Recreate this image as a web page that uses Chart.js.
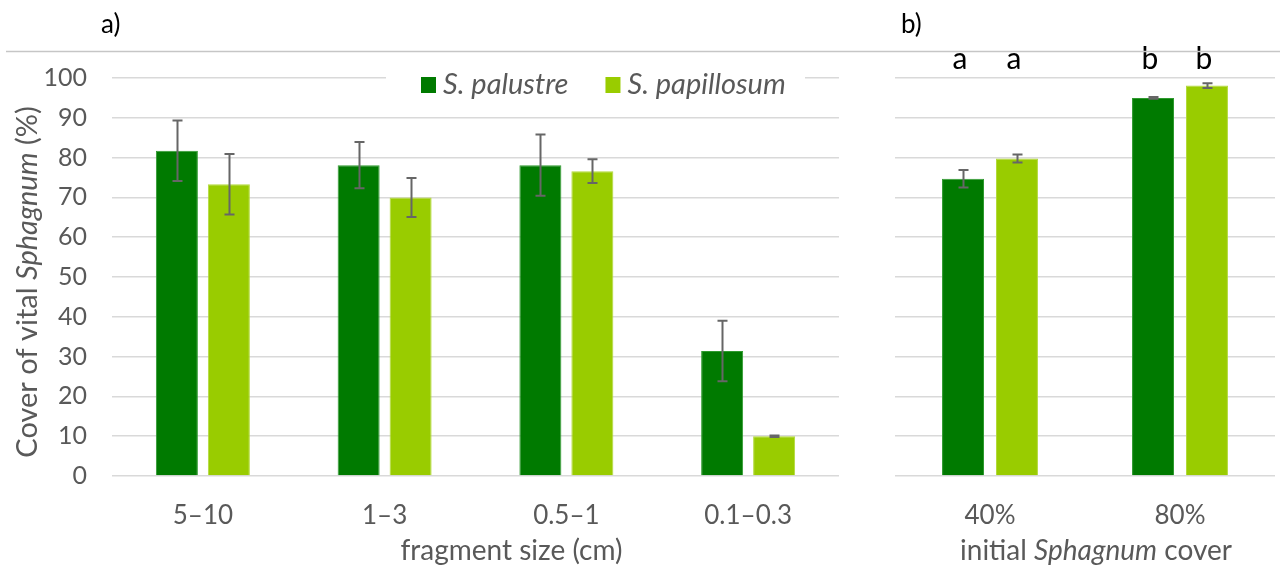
<!DOCTYPE html>
<html>
<head>
<meta charset="utf-8">
<script src="https://cdn.jsdelivr.net/npm/chart.js@4/dist/chart.umd.min.js"></script>
<style>
  html, body { margin: 0; padding: 0; background: #fff; }
  #wrap { position: relative; width: 1282px; height: 570px; overflow: hidden; }
  canvas { position: absolute; top: 0; }
  #chartSize { left: 0; }
  #chartCover { left: 895px; }
</style>
</head>
<body>
<div id="wrap">
  <canvas id="chartSize" width="895" height="570"></canvas>
  <canvas id="chartCover" width="387" height="570"></canvas>
</div>
<script>
// ---- data: panel a) fragment size ----
const sizeCategories = ['5–10', '1–3', '0.5–1', '0.1–0.3'];
const palustreBySize = [81.7, 78.1, 78.1, 31.4];
const palustreBySizeErr = [7.6, 5.8, 7.7, 7.6];
const papillosumBySize = [73.3, 70.0, 76.6, 10.0];
const papillosumBySizeErr = [7.6, 4.9, 3.0, 0.2];

// ---- data: panel b) initial cover ----
const coverCategories = ['40%', '80%'];
const palustreByCover = [74.7, 95.0];
const palustreByCoverErr = [2.2, 0.2];
const papillosumByCover = [79.8, 98.1];
const papillosumByCoverErr = [1.0, 0.6];
const palustreCoverLetters = ['a', 'b'];
const papillosumCoverLetters = ['a', 'b'];

const seriesNames = ['S. palustre', 'S. papillosum'];

// ---- axis settings ----
const yMin = 0, yMax = 100, yStep = 10;

const DARK = '#007a00';
const LIGHT = '#99cc00';
const TEXT = '#595959';
const GRID = '#d9d9d9';
const FONT = 'Lato, "Open Sans", sans-serif';

// draws a run of text pieces with mixed upright / italic style, centred on (cx, cy)
function drawRich(ctx, pieces, cx, cy, size, color, angle) {
  ctx.save();
  ctx.translate(cx, cy);
  if (angle) ctx.rotate(angle);
  ctx.fillStyle = color;
  ctx.textBaseline = 'middle';
  ctx.textAlign = 'left';
  const fontOf = p => (p.italic ? 'italic ' : '') + size + 'px ' + FONT;
  let total = 0;
  pieces.forEach(p => { ctx.font = fontOf(p); total += ctx.measureText(p.text).width; });
  let x = -total / 2;
  pieces.forEach(p => {
    ctx.font = fontOf(p);
    ctx.fillText(p.text, x, 0);
    x += ctx.measureText(p.text).width;
  });
  ctx.restore();
}

// error bars (mean ± error) for every dataset that carries an `errors` array
const errorBars = {
  id: 'errorBars',
  afterDatasetsDraw(chart) {
    const ctx = chart.ctx;
    const y = chart.scales.y;
    ctx.save();
    ctx.strokeStyle = '#666666';
    ctx.lineWidth = 2;
    chart.data.datasets.forEach((ds, i) => {
      if (!ds.errors) return;
      chart.getDatasetMeta(i).data.forEach((bar, j) => {
        const v = ds.data[j], e = ds.errors[j];
        const top = y.getPixelForValue(v + e);
        const bot = y.getPixelForValue(v - e);
        const x = Math.round(bar.x) + 0.5;
        ctx.beginPath();
        ctx.moveTo(x, top); ctx.lineTo(x, bot);
        ctx.moveTo(x - 5, top); ctx.lineTo(x + 5, top);
        ctx.moveTo(x - 5, bot); ctx.lineTo(x + 5, bot);
        ctx.stroke();
      });
    });
    ctx.restore();
  }
};

// significance letters above each bar
const sigLetters = {
  id: 'sigLetters',
  afterDatasetsDraw(chart) {
    const ctx = chart.ctx;
    ctx.save();
    ctx.fillStyle = '#000';
    ctx.font = '30px ' + FONT;
    ctx.textAlign = 'center';
    ctx.textBaseline = 'middle';
    chart.data.datasets.forEach((ds, i) => {
      if (!ds.letters) return;
      chart.getDatasetMeta(i).data.forEach((bar, j) => {
        ctx.fillText(ds.letters[j], bar.x - 3, chart.chartArea.top - 19);
      });
    });
    ctx.restore();
  }
};

// frame pieces: rule under the panel label, panel label, axis titles, legend
const decorations = {
  id: 'decorations',
  afterDraw(chart, args, opts) {
    const ctx = chart.ctx;
    ctx.save();
    // horizontal rule
    ctx.strokeStyle = '#c6c6c6';
    ctx.lineWidth = 1.5;
    ctx.beginPath();
    ctx.moveTo(opts.ruleFrom, 51.5);
    ctx.lineTo(opts.ruleTo, 51.5);
    ctx.stroke();
    // panel label
    ctx.fillStyle = '#000';
    ctx.font = '26px ' + FONT;
    ctx.textBaseline = 'middle';
    ctx.textAlign = 'left';
    ctx.fillText(opts.panel, opts.panelX, 25);
    ctx.restore();

    const area = chart.chartArea;
    drawRich(ctx, opts.xTitle, (area.left + area.right) / 2 + opts.xTitleShift, 551, 28, TEXT, 0);
    if (opts.yTitle) {
      drawRich(ctx, opts.yTitle, 28, 282, 29, TEXT, -Math.PI / 2);
    }

    if (opts.legend) {
      const L = opts.legend;
      ctx.save();
      ctx.fillStyle = '#fff';
      ctx.fillRect(L.boxLeft, L.y - 16, L.boxRight - L.boxLeft, 32);
      ctx.font = 'italic 29px ' + FONT;
      ctx.textBaseline = 'middle';
      ctx.textAlign = 'left';
      let x = L.x;
      chart.data.datasets.forEach(ds => {
        ctx.fillStyle = ds.backgroundColor;
        ctx.fillRect(x, L.y - 8, 15, 16);
        x += 22;
        ctx.fillStyle = TEXT;
        ctx.fillText(ds.label, x, L.y);
        x += ctx.measureText(ds.label).width + 37;
      });
      ctx.restore();
    }
  }
};

function baseOptions(hideY, padRight, catPct, barPct) {
  return {
    responsive: false,
    animation: false,
    devicePixelRatio: 1,
    layout: { padding: { left: 0, right: padRight, top: 78, bottom: 0 } },
    datasets: { bar: { categoryPercentage: catPct, barPercentage: barPct } },
    plugins: { legend: { display: false }, tooltip: { enabled: false } },
    scales: {
      x: {
        grid: { display: false, drawTicks: false },
        border: { display: false },
        ticks: { color: TEXT, font: { family: FONT, size: 26 }, padding: 24 },
        afterFit(scale) { scale.height = 94; }
      },
      y: {
        min: yMin, max: yMax,
        grid: { color: GRID, lineWidth: 1.5, drawTicks: false },
        border: { display: false },
        ticks: {
          display: !hideY, stepSize: yStep, color: TEXT,
          font: { family: FONT, size: 25 }, padding: 25
        },
        afterFit(scale) { scale.width = hideY ? 0 : 112; }
      }
    }
  };
}

// panel a)
const optsA = baseOptions(false, 56, 0.572, 0.808);
optsA.plugins.decorations = {
  ruleFrom: 6, ruleTo: 895, panel: 'a)', panelX: 101,
  xTitle: [{ text: 'fragment size (cm)' }], xTitleShift: 36,
  yTitle: [{ text: 'Cover of vital ' }, { text: 'Sphagnum', italic: true }, { text: ' (%)' }],
  legend: { x: 421, y: 85, boxLeft: 386, boxRight: 805 }
};
new Chart(document.getElementById('chartSize'), {
  type: 'bar',
  data: {
    labels: sizeCategories,
    datasets: [
      { label: seriesNames[0], data: palustreBySize, errors: palustreBySizeErr,
        backgroundColor: DARK, borderColor: '#2f9a2f', borderWidth: 1 },
      { label: seriesNames[1], data: papillosumBySize, errors: papillosumBySizeErr,
        backgroundColor: LIGHT, borderColor: '#b3da3a', borderWidth: 1 }
    ]
  },
  options: optsA,
  plugins: [errorBars, decorations]
});

// panel b)
const optsB = baseOptions(true, 7, 0.568, 0.778);
optsB.plugins.decorations = {
  ruleFrom: 0, ruleTo: 385, panel: 'b)', panelX: 6,
  xTitle: [{ text: 'initial ' }, { text: 'Sphagnum', italic: true }, { text: ' cover' }], xTitleShift: 11
};
new Chart(document.getElementById('chartCover'), {
  type: 'bar',
  data: {
    labels: coverCategories,
    datasets: [
      { label: seriesNames[0], data: palustreByCover, errors: palustreByCoverErr, letters: palustreCoverLetters,
        backgroundColor: DARK, borderColor: '#2f9a2f', borderWidth: 1 },
      { label: seriesNames[1], data: papillosumByCover, errors: papillosumByCoverErr, letters: papillosumCoverLetters,
        backgroundColor: LIGHT, borderColor: '#b3da3a', borderWidth: 1 }
    ]
  },
  options: optsB,
  plugins: [errorBars, sigLetters, decorations]
});
</script>
</body>
</html>
